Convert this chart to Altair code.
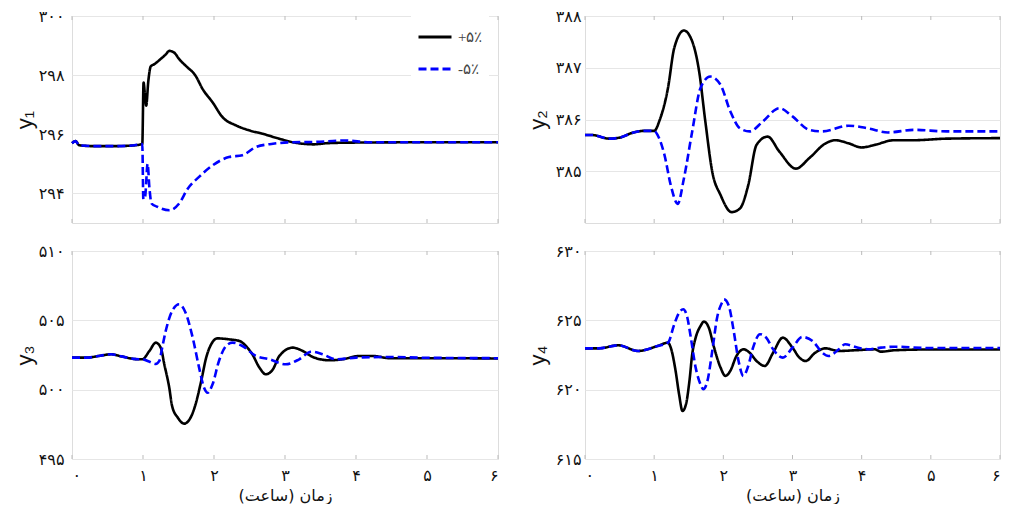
import altair as alt
import pandas as pd

SERIES = ["+۵٪", "-۵٪"]
FA_DIGITS = ["۰", "۱", "۲", "۳", "۴", "۵", "۶", "۷", "۸", "۹"]

X_TICKS = [0, 1, 2, 3, 4, 5, 6]
Y_TICKS = [[294, 296, 298, 300], [385, 386, 387, 388], [495, 500, 505, 510], [615, 620, 625, 630]]
Y_DOMAINS = [[293, 300], [384, 388], [495, 510], [615, 630]]
Y_TITLES = ["y₁", "y₂", "y₃", "y₄"]
X_TITLE = "(ساعت) زمان"

# ---- panel 1 (y1)
p1_pos_t = [0, 0.05, 0.1, 0.3, 0.6, 0.85, 0.99, 1.008, 1.025, 1.045, 1.075, 1.11, 1.16, 1.25, 1.32, 1.37, 1.44, 1.51,
            1.60, 1.74, 1.84, 1.98, 2.12, 2.31, 2.50, 2.68, 2.92, 3.11, 3.25, 3.4, 3.6, 4.0, 5.0, 6.0]
p1_pos_v = [295.7, 295.77, 295.63, 295.6, 295.6, 295.62, 295.67, 297.75, 297.4, 296.97, 297.8, 298.3, 298.37, 298.55,
            298.7, 298.82, 298.76, 298.54, 298.32, 297.98, 297.53, 297.08, 296.58, 296.30, 296.13, 296.02, 295.85,
            295.73, 295.68, 295.66, 295.70, 295.72, 295.73, 295.73]
p1_neg_t = [0, 0.05, 0.1, 0.3, 0.6, 0.85, 0.99, 1.005, 1.03, 1.065, 1.09, 1.12, 1.20, 1.37, 1.51, 1.63, 1.79, 1.98,
            2.21, 2.40, 2.59, 2.83, 3.1, 3.4, 3.84, 4.2, 5.0, 6.0]
p1_neg_v = [295.7, 295.77, 295.63, 295.6, 295.6, 295.62, 295.67, 293.8, 293.9, 295.0, 294.2, 293.66, 293.55, 293.43,
            293.66, 294.16, 294.56, 294.95, 295.23, 295.29, 295.57, 295.68, 295.73, 295.74, 295.79, 295.73, 295.73,
            295.73]

# ---- panel 2 (y2)
p2_pos_t = [0, 0.1, 0.35, 0.5, 0.7, 0.85, 1.0, 1.08, 1.2, 1.29, 1.43, 1.55, 1.65, 1.74, 1.84, 1.96, 2.12, 2.24, 2.36,
            2.48, 2.64, 2.81, 3.05, 3.24, 3.48, 3.62, 3.81, 4.0, 4.19, 4.47, 4.76, 5.23, 6.0]
p2_pos_v = [385.70, 385.70, 385.63, 385.65, 385.75, 385.78, 385.78, 385.99, 386.61, 387.38, 387.72, 387.51, 386.93,
            385.96, 384.99, 384.54, 384.21, 384.28, 384.73, 385.51, 385.67, 385.38, 385.05, 385.25, 385.54, 385.60,
            385.54, 385.46, 385.51, 385.60, 385.60, 385.63, 385.64]
p2_neg_t = [0, 0.1, 0.35, 0.5, 0.7, 0.85, 1.0, 1.05, 1.15, 1.24, 1.34, 1.43, 1.55, 1.67, 1.81, 1.96, 2.1, 2.24, 2.38,
            2.57, 2.81, 3.0, 3.24, 3.43, 3.81, 4.09, 4.38, 4.76, 5.23, 6.0]
p2_neg_v = [385.70, 385.70, 385.63, 385.65, 385.75, 385.78, 385.78, 385.70, 385.31, 384.73, 384.37, 384.86, 385.77,
            386.61, 386.83, 386.67, 386.16, 385.83, 385.77, 385.96, 386.22, 386.06, 385.80, 385.77, 385.88, 385.83,
            385.75, 385.80, 385.77, 385.77]

# ---- panel 3 (y3)
p3_pos_t = [0, 0.2, 0.4, 0.55, 0.7, 0.9, 0.99, 1.09, 1.18, 1.25, 1.30, 1.37, 1.41, 1.49, 1.58, 1.67, 1.74, 1.82, 1.89,
            1.96, 2.05, 2.21, 2.36, 2.45, 2.54, 2.64, 2.73, 2.83, 2.92, 3.11, 3.25, 3.39, 3.62, 3.81, 4.05, 4.24, 4.47,
            5.0, 6.0]
p3_pos_v = [502.31, 502.31, 502.45, 502.55, 502.4, 502.2, 502.19, 502.79, 503.39, 503.03, 501.83, 500.14, 498.82,
            497.98, 497.55, 497.98, 498.94, 500.63, 502.31, 503.27, 503.70, 503.63, 503.51, 503.15, 502.55, 501.59,
            501.11, 501.47, 502.43, 503.03, 502.79, 502.36, 502.12, 502.19, 502.43, 502.43, 502.27, 502.27, 502.25]
p3_neg_t = [0, 0.2, 0.4, 0.55, 0.7, 0.9, 0.99, 1.1, 1.18, 1.23, 1.27, 1.32, 1.41, 1.51, 1.60, 1.70, 1.79, 1.86, 1.91,
            1.98, 2.07, 2.17, 2.26, 2.40, 2.59, 2.78, 3.01, 3.20, 3.37, 3.53, 3.72, 4.0, 4.47, 5.0, 6.0]
p3_neg_v = [502.31, 502.31, 502.45, 502.55, 502.4, 502.2, 502.19, 502.0, 501.85, 502.07, 503.03, 504.23, 505.67,
            506.16, 505.55, 503.75, 501.59, 500.14, 499.78, 500.39, 502.07, 503.15, 503.39, 503.15, 502.43, 502.19,
            501.83, 502.19, 502.74, 502.55, 502.19, 502.31, 502.36, 502.3, 502.27]

# ---- panel 4 (y4)
p4_pos_t = [0, 0.2, 0.48, 0.77, 1.05, 1.20, 1.24, 1.31, 1.36, 1.41, 1.46, 1.51, 1.55, 1.60, 1.67, 1.72, 1.79, 1.86,
            1.96, 2.03, 2.10, 2.19, 2.29, 2.38, 2.48, 2.60, 2.72, 2.86, 3.00, 3.10, 3.19, 3.33, 3.48, 3.67, 3.90, 4.19,
            4.28, 4.47, 5.0, 6.0]
p4_pos_v = [622.98, 622.98, 623.2, 622.79, 623.15, 623.39, 623.03, 621.35, 619.67, 618.46, 618.95, 620.63, 622.55,
            623.75, 624.59, 624.91, 624.47, 623.15, 621.59, 620.99, 621.35, 622.43, 622.91, 622.67, 622.07, 621.71,
            622.67, 623.75, 623.03, 622.31, 622.07, 622.67, 622.98, 622.79, 622.84, 622.91, 622.74, 622.84, 622.9,
            622.9]
p4_neg_t = [0, 0.2, 0.48, 0.77, 1.05, 1.20, 1.29, 1.36, 1.42, 1.48, 1.53, 1.60, 1.67, 1.71, 1.77, 1.84, 1.91, 1.98,
            2.01, 2.08, 2.15, 2.22, 2.29, 2.36, 2.43, 2.53, 2.62, 2.72, 2.86, 3.00, 3.14, 3.29, 3.43, 3.52, 3.67, 3.76,
            3.95, 4.09, 4.28, 4.47, 5.0, 6.0]
p4_neg_v = [622.98, 622.98, 623.2, 622.79, 623.15, 623.39, 624.71, 625.55, 625.80, 625.19, 623.75, 621.59, 620.39,
            620.03, 620.63, 622.79, 625.19, 626.27, 626.51, 626.03, 624.23, 622.07, 620.99, 621.71, 623.03, 624.0,
            623.75, 622.91, 622.31, 623.03, 623.8, 623.51, 622.67, 622.43, 622.91, 623.27, 623.03, 622.91, 623.03,
            623.1, 623.0, 623.0]

PANELS = [
    (p1_pos_t, p1_pos_v, p1_neg_t, p1_neg_v),
    (p2_pos_t, p2_pos_v, p2_neg_t, p2_neg_v),
    (p3_pos_t, p3_pos_v, p3_neg_t, p3_neg_v),
    (p4_pos_t, p4_pos_v, p4_neg_t, p4_neg_v),
]

LABEL_FONT = "DejaVu Sans"
GRID = "#e6e6e6"
FRAME = "#d4d4d4"

D = "[" + ",".join("'%s'" % d for d in FA_DIGITS) + "]"
X_LABEL_EXPR = D + "[floor(datum.value)%10]"
Y_LABEL_EXPR = (D + "[floor(datum.value/100)%10]+" + D + "[floor(datum.value/10)%10]+" + D + "[floor(datum.value)%10]")


def panel(i, width, height, bottom, label_pad, legend):
    pt, pv, nt, nv = PANELS[i]
    df = pd.DataFrame({
        "t": list(pt) + list(nt),
        "v": list(pv) + list(nv),
        "s": [SERIES[0]] * len(pt) + [SERIES[1]] * len(nt),
    })
    if bottom:
        xaxis = alt.Axis(values=X_TICKS, labelExpr=X_LABEL_EXPR, title=X_TITLE, grid=False, ticks=False,
                         domain=False, labelFont=LABEL_FONT, labelFontSize=16, labelColor="#111",
                         labelPadding=8, titleFont=LABEL_FONT, titleFontSize=16, titleFontWeight="normal",
                         titlePadding=4, titleColor="#111")
    else:
        xaxis = alt.Axis(values=X_TICKS, labels=False, title=None, grid=False, ticks=False, domain=False)
    yaxis = alt.Axis(values=Y_TICKS[i], labelExpr=Y_LABEL_EXPR, title=Y_TITLES[i], grid=True, gridColor=GRID,
                     ticks=False, domain=False, labelFont=LABEL_FONT, labelFontSize=16, labelColor="#111",
                     labelPadding=label_pad, titleFont="Liberation Sans", titleFontSize=22,
                     titleFontWeight="normal", titlePadding=3, titleColor="#111", minExtent=33, maxExtent=33)
    if legend:
        leg = alt.Legend(title=None, orient="none", legendX=339, legendY=-3, symbolType="stroke",
                         symbolSize=1089, symbolStrokeWidth=3, labelFont="Liberation Serif", labelFontSize=15,
                         labelColor="#444", labelOffset=5, fillColor="white", padding=6, rowPadding=6)
    else:
        leg = None
    x = alt.X("t:Q", scale=alt.Scale(domain=[0, 6], nice=False), axis=xaxis)
    lines = alt.Chart(df).mark_line(strokeWidth=2.6, interpolate="monotone").encode(
        x=x,
        y=alt.Y("v:Q", scale=alt.Scale(domain=Y_DOMAINS[i], nice=False, zero=False), axis=yaxis),
        color=alt.Color("s:N", scale=alt.Scale(domain=SERIES, range=["#000000", "#0000ff"]), legend=leg),
        strokeDash=alt.StrokeDash("s:N", scale=alt.Scale(domain=SERIES, range=[[1, 0], [8, 4]]), legend=leg),
        detail="s:N",
    )
    tick_df = pd.DataFrame({"t": X_TICKS})
    ticks_bottom = alt.Chart(tick_df).mark_rule(color="#bbbbbb", strokeWidth=1).encode(
        x=alt.X("t:Q"), y=alt.value(height - 4), y2=alt.value(height))
    ticks_top = alt.Chart(tick_df).mark_rule(color="#bbbbbb", strokeWidth=1).encode(
        x=alt.X("t:Q"), y=alt.value(0), y2=alt.value(4))
    return alt.layer(ticks_bottom, ticks_top, lines).properties(width=width, height=height)


WL, WR, HT, HB = 426, 415, 207, 208
chart = alt.concat(
    panel(0, WL, HT, False, 8, True),
    panel(1, WR, HT, False, 4, False),
    panel(2, WL, HB, True, 8, False),
    panel(3, WR, HB, True, 4, False),
    columns=2,
    spacing=alt.RowColnumber(row=28, column=87),
).resolve_scale(
    color="independent", strokeDash="independent"
).resolve_legend(color="independent", strokeDash="independent").properties(
    bounds="flush",
    padding={"left": 4, "top": -1, "right": 0, "bottom": 0},
).configure_view(stroke=FRAME, strokeWidth=1.2).configure(background="white")

chart.save("out.html", embed_options={"renderer": "svg", "actions": False})
